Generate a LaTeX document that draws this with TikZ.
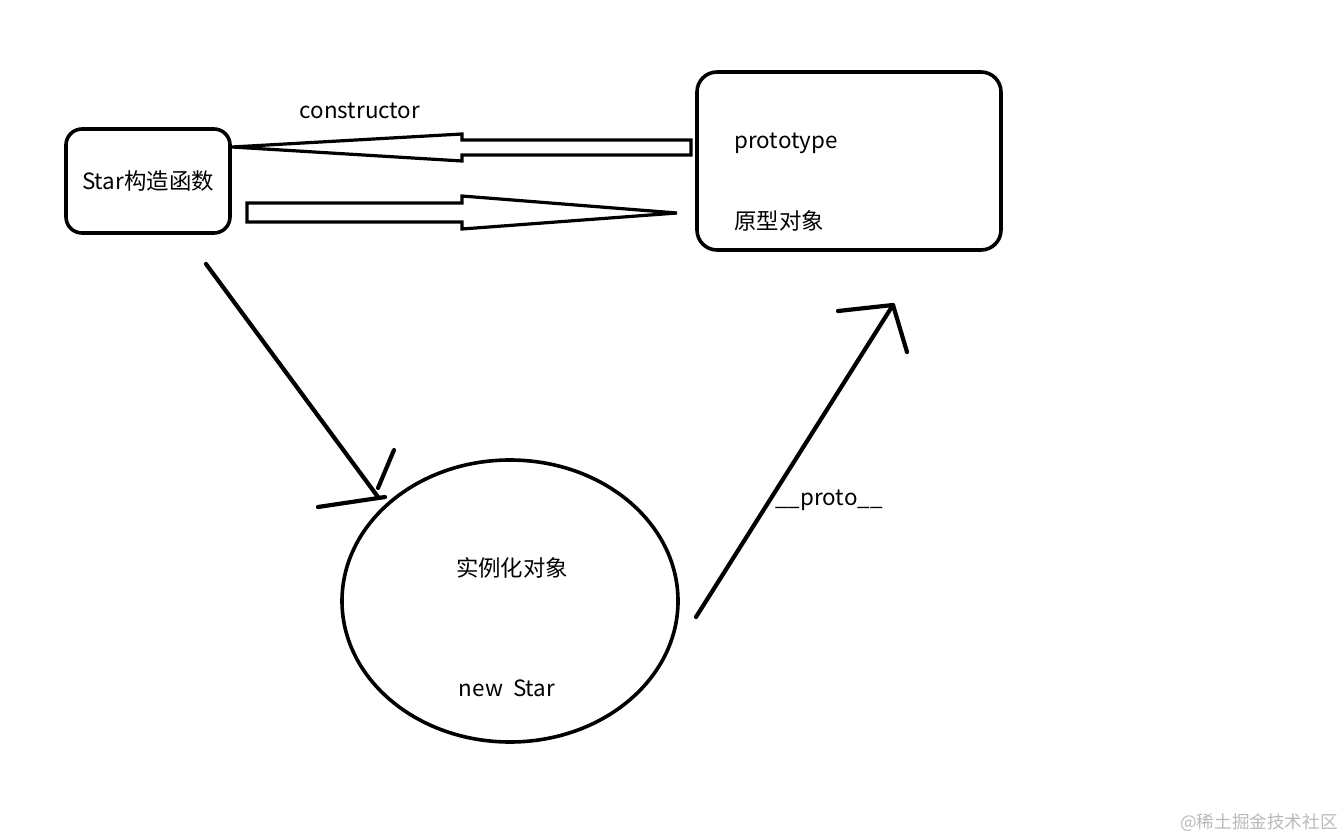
\documentclass[tikz,border=0pt]{standalone}
\usepackage{fontspec}
\setmainfont{Noto Sans CJK SC}
\usetikzlibrary{shapes.geometric}
\tikzstyle{block} = [draw, rectangle, rounded corners=8pt, line width=1.8pt, inner sep=0pt]
\tikzstyle{instance} = [draw, ellipse, line width=1.8pt, inner sep=0pt, minimum width=168pt, minimum height=141pt]
\tikzstyle{hollow} = [draw, line width=1.6pt, line join=miter]
\tikzstyle{stroke} = [draw, line width=2.1pt, line cap=round, line join=round]
\tikzstyle{label} = [inner sep=0pt, font=\fontsize{11.2}{13}\selectfont]

\begin{document}
\begin{tikzpicture}[x=0.5pt, y=-0.5pt]
    \useasboundingbox (0,0) rectangle (1344,840);

    % Place the blocks
    \node [block, label, minimum width=82pt, minimum height=52pt] (star) at (148,181) {Star构造函数};
    \node [block, rounded corners=10pt, minimum width=152pt, minimum height=89pt] (proto) at (849,161) {};
    \node [label, anchor=west] (ptype) at (734,143) {prototype};
    \node [label, anchor=west] (pobj) at (734,221) {原型对象};
    \node [label] (ctor) at (360,111) {constructor};
    \node [instance] (inst) at (510,601) {};
    \node [label] (itext) at (512,568) {实例化对象};
    \node [label] (inew) at (507,688) {new\ \ Star};
    \node [label] (plabel) at (829,500) {\_\_proto\_\_};
    \node [inner sep=0pt, anchor=east, text=gray!55, font=\fontsize{8.8}{10}\selectfont] (mark) at (1338,823) {@稀土掘金技术社区};

    % Hollow arrows between the blocks
    \draw [hollow] (232,147) -- (462,134) -- (462,140) -- (691,140) -- (691,155) -- (462,155) -- (462,161) -- cycle;
    \draw [hollow] (677,213) -- (462,196) -- (462,203) -- (247,203) -- (247,222) -- (462,222) -- (462,229) -- cycle;

    % Connect the nodes
    \coordinate (newfrom) at (206,264);
    \coordinate (newto) at (378,497);
    \draw [stroke] (newfrom) -- (newto);
    \draw [stroke] (318,507) -- (385,497);
    \draw [stroke] (378,488) -- (394,450);
    \coordinate (protofrom) at (696,617);
    \coordinate (prototo) at (893,305);
    \draw [stroke] (protofrom) -- (prototo);
    \draw [stroke] (838,311) -- (prototo) -- (907,352);
\end{tikzpicture}
\end{document}
